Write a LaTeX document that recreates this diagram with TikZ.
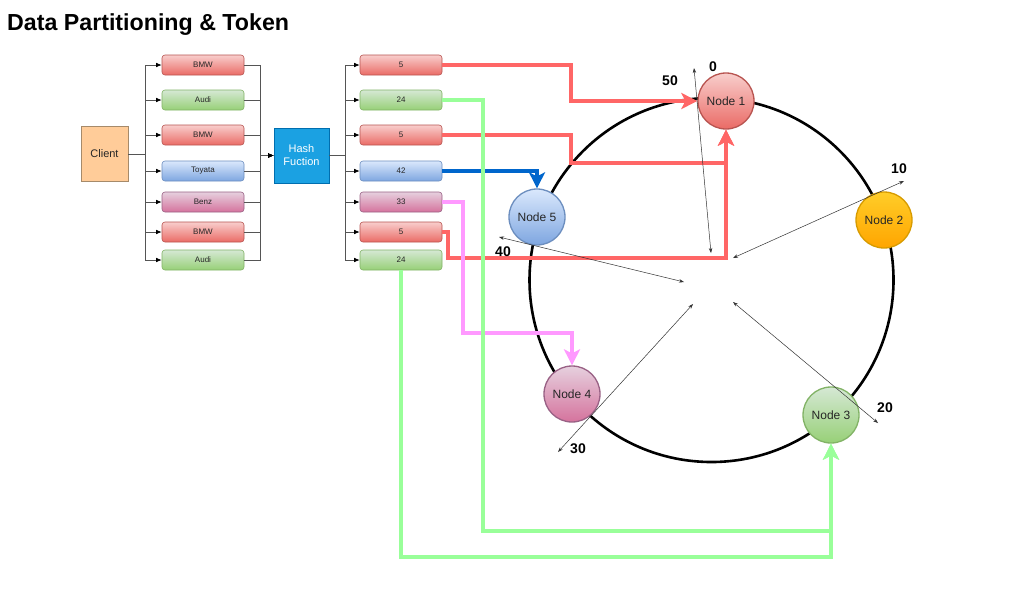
\documentclass[tikz,border=0pt]{standalone}
\usepackage{fontspec}
\setmainfont{Liberation Sans}
\usetikzlibrary{arrows.meta}
\definecolor{rtop}{HTML}{F8CECC}\definecolor{rbot}{HTML}{EA6B66}\definecolor{rline}{HTML}{B85450}
\definecolor{gtop}{HTML}{D5E8D4}\definecolor{gbot}{HTML}{97D077}\definecolor{gline}{HTML}{82B366}
\definecolor{btop}{HTML}{DAE8FC}\definecolor{bbot}{HTML}{7EA6E0}\definecolor{bline}{HTML}{6C8EBF}
\definecolor{ptop}{HTML}{E6D0DE}\definecolor{pbot}{HTML}{D5739D}\definecolor{pline}{HTML}{996185}
\definecolor{ytop}{HTML}{FFCD28}\definecolor{ybot}{HTML}{FFA500}\definecolor{yline}{HTML}{D79B00}
\definecolor{clientfill}{HTML}{FFCC99}\definecolor{clientline}{HTML}{A68A6A}
\definecolor{hashfill}{HTML}{1BA1E2}\definecolor{hashline}{HTML}{006EAF}
\definecolor{redcon}{HTML}{FF6666}\definecolor{greencon}{HTML}{99FF99}
\definecolor{pinkcon}{HTML}{FF99FF}\definecolor{bluecon}{HTML}{0066CC}
\definecolor{txt}{HTML}{262626}\definecolor{busgray}{HTML}{555555}
\begin{document}
\begin{tikzpicture}[x=1pt,y=-1pt,
  cbox/.style={rectangle, rounded corners=3pt, minimum width=82pt, minimum height=20pt,
    inner sep=0pt, line width=0.6pt, text=txt, font=\fontsize{8}{9}\selectfont},
  rbx/.style={top color=rtop, bottom color=rbot, draw=rline},
  gbx/.style={top color=gtop, bottom color=gbot, draw=gline},
  bbx/.style={top color=btop, bottom color=bbot, draw=bline},
  pbx/.style={top color=ptop, bottom color=pbot, draw=pline},
  ybx/.style={top color=ytop, bottom color=ybot, draw=yline},
  nd/.style={circle, minimum size=56pt, inner sep=0pt, line width=1.3pt, text=txt,
    font=\fontsize{12}{14}\selectfont},
  conn/.style={draw=busgray, line width=0.7pt},
  busarrow/.style={-{Latex[length=5.5pt,width=4.5pt,color=black]}},
  colcon/.style={line width=3.8pt, -{Stealth[length=16pt,width=16pt,inset=4pt]}},
  ringthin/.style={draw=black!80, line width=0.5pt, {Stealth[length=5pt,width=3.5pt]}-{Stealth[length=5pt,width=3.5pt]}},
  lbl/.style={font=\bfseries\fontsize{14}{16}\selectfont}
]
\useasboundingbox (0,0) rectangle (1032,590);
\fill[white] (0,0) rectangle (1032,590);

\node[anchor=west, inner sep=0pt, font=\bfseries\fontsize{23.2}{27}\selectfont] (title) at (7,25) {Data Partitioning \& Token};

% client and hash
\node[rectangle, fill=clientfill, draw=clientline, line width=0.8pt, minimum width=47pt, minimum height=55pt,
  inner sep=0pt, text=txt, font=\fontsize{11}{13}\selectfont] (client) at (104.5,154) {Client};
\node[rectangle, fill=hashfill, draw=hashline, line width=0.8pt, minimum width=55pt, minimum height=55pt,
  inner sep=0pt, text=white, align=center, font=\fontsize{11}{13}\selectfont] (hash) at (301.5,155.5) {Hash\\Fuction};

% car boxes
\foreach \i/\y/\nm/\st in {1/65/BMW/rbx, 2/100/Audi/gbx, 3/135/BMW/rbx, 4/171/Toyata/bbx,
  5/202/Benz/pbx, 6/232/BMW/rbx, 7/260/Audi/gbx}
  \node[cbox, \st] (c\i) at (203,\y) {\nm};
% token boxes
\foreach \i/\y/\nm/\st in {1/65/5/rbx, 2/100/24/gbx, 3/135/5/rbx, 4/171/42/bbx,
  5/202/33/pbx, 6/232/5/rbx, 7/260/24/gbx}
  \node[cbox, \st] (t\i) at (401,\y) {\nm};

% bus connectors
\foreach \i in {1,...,7}
  \draw[conn, busarrow] (client.east) -- (145,154) |- (c\i.west);
\foreach \i in {1,...,7}
  \draw[conn, busarrow] (c\i.east) -| (260,155.5) -- (hash.west);
\foreach \i in {1,...,7}
  \draw[conn, busarrow] (hash.east) -- (345,155.5) |- (t\i.west);

% ring
\node[draw, circle, line width=2.6pt, minimum size=364pt, inner sep=0pt] (ring) at (711.5,280) {};

% ring nodes
\node[nd, rbx] (n1) at (726,101) {Node 1};
\node[nd, ybx] (n2) at (884,220) {Node 2};
\node[nd, gbx] (n3) at (831,415) {Node 3};
\node[nd, pbx] (n4) at (572,394) {Node 4};
\node[nd, bbx] (n5) at (537,217) {Node 5};

% coloured connectors
\draw[colcon, draw=redcon, color=redcon] (t1.east) -- (571,65) |- (n1.west);
\draw[colcon, draw=redcon, color=redcon] (t3.east) -- (571,135) -- (571,163) -| (n1.south);
\draw[colcon, draw=redcon, color=redcon] (t6.east) -- (448,232) |- (726,258) -- (n1.south);
\draw[colcon, draw=bluecon, color=bluecon] (t4.east) -| (n5.north);
\draw[colcon, draw=pinkcon, color=pinkcon] (t5.east) -- (463,202) |- (572,333) -- (n4.north);
\draw[colcon, draw=greencon, color=greencon] (t2.east) -- (483,100) |- (831,531) -- (n3.south);
\draw[colcon, draw=greencon, color=greencon] (t7.south) |- (831,557) -- (n3.south);

% token arrows
\coordinate (p0a) at (694,68);  \coordinate (p0b) at (711,253);
\coordinate (p10a) at (904,181); \coordinate (p10b) at (733,258);
\coordinate (p20a) at (878,423); \coordinate (p20b) at (733,302);
\coordinate (p30a) at (558,452); \coordinate (p30b) at (693,304);
\coordinate (p40a) at (499,237); \coordinate (p40b) at (684,282);
\draw[ringthin] (p0a) -- (p0b);
\draw[ringthin] (p10a) -- (p10b);
\draw[ringthin] (p20a) -- (p20b);
\draw[ringthin] (p30a) -- (p30b);
\draw[ringthin] (p40a) -- (p40b);

\node[lbl] (l0) at (713,67) {0};
\node[lbl] (l50) at (670,81) {50};
\node[lbl] (l10) at (899,169) {10};
\node[lbl] (l20) at (885,408) {20};
\node[lbl] (l30) at (578,449) {30};
\node[lbl] (l40) at (503,252) {40};
\end{tikzpicture}
\end{document}
